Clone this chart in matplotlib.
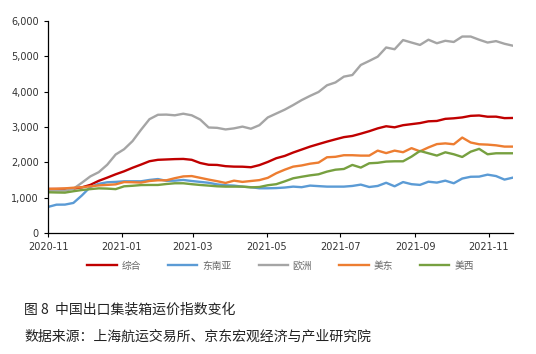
import numpy as np
import pandas as pd
import matplotlib
matplotlib.use("Agg")
import matplotlib.pyplot as plt
import matplotlib.dates as mdates
from matplotlib.ticker import FuncFormatter

plt.rcParams['font.family'] = ['Noto Sans CJK SC', 'DejaVu Sans']

# 周度数据, 2020-11 ~ 2021-11
dates = pd.date_range('2020-11-01', periods=56, freq='7D')

zonghe = [1245, 1245, 1245, 1255, 1290, 1360, 1475, 1565, 1660, 1745,
          1845, 1935, 2030, 2070, 2080, 2090, 2095, 2070, 1980, 1930,
          1925, 1890, 1877, 1875, 1860, 1920, 2010, 2115, 2180, 2276,
          2360, 2444, 2515, 2585, 2650, 2712, 2745, 2810, 2880, 2960,
          3020, 2990, 3050, 3080, 3110, 3160, 3170, 3230, 3245, 3270,
          3315, 3325, 3290, 3292, 3250, 3255]
dongnanya = [736, 800, 802, 849, 1060, 1300, 1390, 1434, 1445, 1462,
             1462, 1462, 1500, 1525, 1475, 1480, 1500, 1470, 1445, 1420,
             1375, 1350, 1340, 1310, 1295, 1264, 1264, 1270, 1285, 1311,
             1295, 1340, 1325, 1311, 1311, 1311, 1330, 1368, 1300, 1330,
             1420, 1320, 1440, 1380, 1360, 1450, 1425, 1480, 1406, 1540,
             1590, 1594, 1650, 1610, 1510, 1566]
ouzhou = [1198, 1198, 1198, 1250, 1420, 1600, 1720, 1930, 2220, 2370,
          2600, 2920, 3220, 3345, 3350, 3330, 3375, 3330, 3210, 2985,
          2975, 2930, 2960, 3010, 2950, 3050, 3270, 3380, 3490, 3620,
          3760, 3880, 3990, 4180, 4260, 4425, 4470, 4755, 4870, 4990,
          5250, 5200, 5460, 5390, 5322, 5470, 5370, 5440, 5406, 5560,
          5560, 5470, 5390, 5430, 5355, 5300]
meidong = [1245, 1250, 1262, 1280, 1292, 1320, 1345, 1360, 1375, 1440,
           1435, 1425, 1470, 1490, 1490, 1550, 1600, 1610, 1560, 1510,
           1465, 1415, 1480, 1445, 1470, 1495, 1560, 1690, 1790, 1877,
           1910, 1960, 1991, 2142, 2155, 2200, 2200, 2189, 2189, 2330,
           2260, 2330, 2285, 2400, 2310, 2420, 2515, 2535, 2510, 2700,
           2560, 2510, 2500, 2480, 2444, 2444]
meixi = [1151, 1145, 1141, 1180, 1215, 1240, 1262, 1255, 1240, 1320,
         1335, 1355, 1358, 1358, 1385, 1406, 1406, 1380, 1358, 1340,
         1320, 1311, 1311, 1311, 1290, 1300, 1350, 1380, 1460, 1547,
         1590, 1630, 1660, 1736, 1790, 1811, 1925, 1850, 1972, 1985,
         2020, 2028, 2028, 2160, 2321, 2255, 2190, 2283, 2227, 2150,
         2300, 2380, 2227, 2255, 2255, 2255]

names = ['综合', '东南亚', '欧洲', '美东', '美西']
colors = ['#C00000', '#5B9BD5', '#A5A5A5', '#ED7D31', '#77A040']

fig = plt.figure(figsize=(5.36, 3.54), dpi=100)
ax = fig.add_axes([0.0896, 0.342, 0.8674, 0.5987])

for y, name, c in zip([zonghe, dongnanya, ouzhou, meidong, meixi], names, colors):
    ax.plot(dates, y, color=c, lw=1.7, label=name)

ax.set_xlim(dates[0], dates[-1])
ax.set_ylim(0, 6000)
ax.set_yticks(np.arange(0, 6001, 1000))
ax.yaxis.set_major_formatter(FuncFormatter(lambda v, p: f'{int(v):,}'))
ax.xaxis.set_major_locator(mdates.MonthLocator(bymonth=[1, 3, 5, 7, 9, 11]))
ax.xaxis.set_major_formatter(mdates.DateFormatter('%Y-%m'))

for s in ['top', 'right']:
    ax.spines[s].set_visible(False)
for s in ['left', 'bottom']:
    ax.spines[s].set_linewidth(0.9)
ax.tick_params(axis='both', labelsize=7, colors='black', length=3, width=0.8,
               labelcolor='#333333')
for lab in ax.get_xticklabels() + ax.get_yticklabels():
    lab.set_family('DejaVu Sans')

ax.legend(loc='upper center', bbox_to_anchor=(0.5, -0.09), ncol=5, frameon=False,
          fontsize=7, handlelength=3.0, columnspacing=2.8, handletextpad=0.5,
          labelcolor='#666666')

fig.text(0.045, 0.113, '图 8  中国出口集装箱运价指数变化', fontsize=10, color='#222222')
fig.text(0.045, 0.038, '数据来源：上海航运交易所、京东宏观经济与产业研究院', fontsize=10, color='#222222')

fig.savefig('out.png', dpi=100)
